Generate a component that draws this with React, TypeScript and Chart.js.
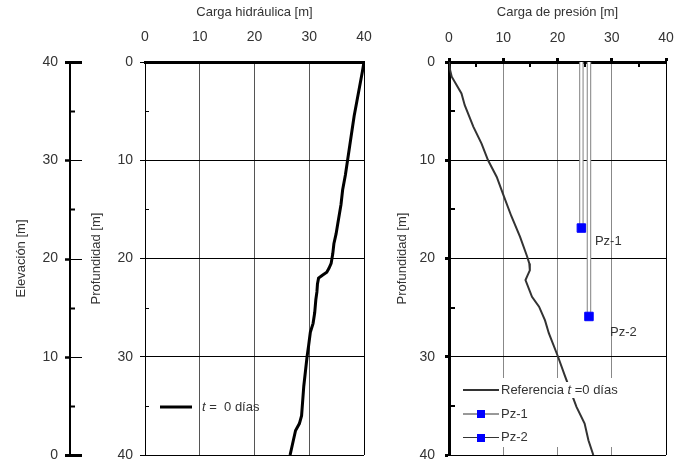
import React, { useEffect, useRef } from 'react';
import { Chart, registerables } from 'chart.js';

Chart.register(...registerables);

// ---------- data ----------
const HEAD_DEPTH = [0, 1, 2.5, 4, 5.5, 7, 8.5, 10, 11.5, 13, 14.5, 15.5, 16.5, 17.5, 18.5, 19.5, 20.5, 21.0, 21.4, 21.7, 22.0, 22.6, 23.4, 24.2, 25.5, 26.6, 27.5, 28.8, 30, 31.5, 33, 34.5, 36, 36.8, 37.5, 38.5, 40];
const HEAD_VALUES = [40, 39.7, 39.2, 38.7, 38.2, 37.8, 37.4, 37.0, 36.6, 36.1, 35.8, 35.5, 35.2, 34.9, 34.5, 34.3, 34.0, 33.6, 33.2, 32.4, 31.7, 31.5, 31.4, 31.2, 31.0, 30.7, 30.2, 29.9, 29.6, 29.3, 29.0, 28.8, 28.6, 28.2, 27.5, 27.1, 26.5];

const PRESSURE_DEPTH = [0, 0.8, 1.5, 3.2, 4.4, 6.6, 8.3, 10, 11.7, 13.5, 15.7, 17.8, 19.8, 20.5, 21.2, 21.7, 22.2, 23.9, 24.9, 26.3, 27.6, 30, 32, 35.1, 36.8, 38.5, 40];
const PRESSURE_VALUES = [0, 0.2, 0.5, 2.3, 2.9, 4.5, 6.0, 7.2, 8.8, 10.0, 11.5, 13.1, 14.4, 14.8, 14.9, 14.5, 14.1, 15.3, 16.6, 17.7, 18.4, 20.1, 21.4, 23.5, 25.0, 25.7, 26.6];

const PZ_NAMES = ['Pz-1', 'Pz-2'];
const PZ_PRESSURE = [24.4, 25.8];
const PZ_DEPTH = [16.9, 25.9];
const PZ_LABEL_X = [26.9, 29.7];
const PZ_LABEL_DEPTH = [18.3, 27.5];

const MINOR_TICKS = [5, 15, 25, 35];
const ELEVATION_TICKS = [0, 10, 20, 30, 40];

const HEAD_TITLE = 'Carga hidráulica [m]';
const PRESSURE_TITLE = 'Carga de presión [m]';
const DEPTH_TITLE = 'Profundidad [m]';
const ELEVATION_TITLE = 'Elevación [m]';
const HEAD_LEGEND = [{ text: 't', italic: true }, { text: ' =  0 días', italic: false }];
const REF_LEGEND = [{ text: 'Referencia ', italic: false }, { text: 't', italic: true }, { text: ' =0 días', italic: false }];

// ---------- style ----------
const FAMILY = '"Liberation Sans", Arial, Helvetica, sans-serif';
const TEXT = '#333';
const f = (size: number, italic = false) => `${italic ? 'italic ' : ''}${size}px ${FAMILY}`;

function fixSize(prop: 'width' | 'height', v: number) {
  return (s: any) => {
    s[prop] = v;
    s.paddingTop = 0; s.paddingBottom = 0; s.paddingLeft = 0; s.paddingRight = 0;
  };
}

function drawRich(ctx: CanvasRenderingContext2D, parts: { text: string; italic: boolean }[], x: number, y: number, size: number, bg: boolean) {
  const widths = parts.map(p => { ctx.font = f(size, p.italic); return ctx.measureText(p.text).width; });
  const total = widths.reduce((a, b) => a + b, 0);
  if (bg) { ctx.fillStyle = '#fff'; ctx.fillRect(x - 1, y - 8, total + 2, 16); }
  let cx = x;
  ctx.textAlign = 'left';
  ctx.textBaseline = 'middle';
  ctx.fillStyle = TEXT;
  parts.forEach((p, i) => { ctx.font = f(size, p.italic); ctx.fillText(p.text, cx, y); cx += widths[i]; });
}

function line(ctx: CanvasRenderingContext2D, x1: number, y1: number, x2: number, y2: number, w: number, c: string) {
  ctx.beginPath(); ctx.strokeStyle = c; ctx.lineWidth = w; ctx.moveTo(x1, y1); ctx.lineTo(x2, y2); ctx.stroke();
}

const leftDecor = {
  id: 'leftDecor',
  afterDraw(chart: any) {
    const ctx = chart.ctx as CanvasRenderingContext2D;
    const e = chart.scales.elev;
    const y = chart.scales.y;
    const ca = chart.chartArea;
    ctx.save();
    const ex = e.right;
    ELEVATION_TICKS.forEach(v => {
      const py = Math.round(e.getPixelForValue(v)) + 0.5;
      if (v === 0 || v === 40) {
        line(ctx, ex - 5, py, ex + 12, py, 3, '#000');
      } else {
        line(ctx, ex - 5, py, ex + 1, py, 2.5, '#000');
        line(ctx, ex, py, ex + 12, py, 1, '#000');
      }
    });
    MINOR_TICKS.forEach(v => {
      const py = Math.round(e.getPixelForValue(v)) + 0.5;
      line(ctx, ex, py, ex + 5, py, 2, '#000');
      const dy = Math.round(y.getPixelForValue(v)) + 0.5;
      line(ctx, ca.left, dy, ca.left + 4, dy, 1, '#000');
    });
    // legend
    const ly = ca.top + 345;
    const ds = chart.data.datasets[0];
    line(ctx, ca.left + 15, ly, ca.left + 47, ly, ds.borderWidth, ds.borderColor);
    drawRich(ctx, HEAD_LEGEND, ca.left + 57, ly, 13, false);
    ctx.restore();
  },
};

const rightDecor = {
  id: 'rightDecor',
  beforeDatasetsDraw(chart: any) {
    const ctx = chart.ctx as CanvasRenderingContext2D;
    const ca = chart.chartArea;
    ctx.save();
    ctx.fillStyle = '#fff';
    ctx.fillRect(ca.left + 3, ca.top + 316, 174, 69);
    ctx.restore();
  },
  afterDatasetsDraw(chart: any) {
    const ctx = chart.ctx as CanvasRenderingContext2D;
    const ca = chart.chartArea;
    const xs = chart.scales.x;
    const ys = chart.scales.y;
    ctx.save();
    // piezometer labels
    ctx.font = f(13);
    ctx.fillStyle = TEXT;
    ctx.textAlign = 'left';
    ctx.textBaseline = 'middle';
    PZ_NAMES.forEach((n, i) => {
      ctx.fillText(n, xs.getPixelForValue(PZ_LABEL_X[i]), ys.getPixelForValue(PZ_LABEL_DEPTH[i]));
    });
    // legend
    const lx1 = ca.left + 14, lx2 = ca.left + 50, tx = ca.left + 52;
    const rows = [ca.top + 328, ca.top + 352, ca.top + 375.5];
    const ref = chart.data.datasets[0];
    line(ctx, lx1, rows[0], lx2, rows[0], ref.borderWidth, ref.borderColor);
    drawRich(ctx, REF_LEGEND, tx, rows[0], 13, true);
    PZ_NAMES.forEach((n, i) => {
      const yy = rows[i + 1];
      line(ctx, lx1, yy, lx2, yy, 1, '#333');
      ctx.fillStyle = '#0000ff';
      const mx = (lx1 + lx2) / 2;
      ctx.fillRect(Math.round(mx - 4), Math.round(yy - 4), 8, 8);
      drawRich(ctx, [{ text: n, italic: false }], tx, yy, 13, false);
    });
    ctx.restore();
  },
  afterDraw(chart: any) {
    const ctx = chart.ctx as CanvasRenderingContext2D;
    const ca = chart.chartArea;
    const xs = chart.scales.x;
    const ys = chart.scales.y;
    ctx.save();
    MINOR_TICKS.forEach(v => {
      const px = Math.round(xs.getPixelForValue(v));
      line(ctx, px, ca.top, px, ca.top + 5, 2, '#000');
      const py = Math.round(ys.getPixelForValue(v));
      line(ctx, ca.left, py, ca.left + 6, py, 2, '#000');
    });
    ctx.restore();
  },
};

const tickFont = { family: FAMILY, size: 14 };
const titleFont = { family: FAMILY, size: 13 };

export default function App() {
  const leftRef = useRef<HTMLCanvasElement>(null);
  const rightRef = useRef<HTMLCanvasElement>(null);

  useEffect(() => {
    const headData = HEAD_VALUES.map((h, i) => ({ x: h, y: HEAD_DEPTH[i] }));
    const pressData = PRESSURE_VALUES.map((p, i) => ({ x: p, y: PRESSURE_DEPTH[i] }));

    const left = new Chart(leftRef.current!, {
      type: 'scatter',
      data: {
        datasets: [{
          label: 't = 0 días',
          data: headData,
          showLine: true,
          borderColor: '#000',
          borderWidth: 3,
          pointRadius: 0,
          fill: false,
        }],
      },
      options: {
        responsive: false,
        animation: false,
        devicePixelRatio: 1,
        layout: { autoPadding: false, padding: { left: 0, right: 28, top: 0, bottom: 11 } },
        plugins: { legend: { display: false }, tooltip: { enabled: false } },
        scales: {
          x: {
            type: 'linear', position: 'top', min: 0, max: 40,
            afterFit: fixSize('height', 62),
            ticks: { stepSize: 10, font: tickFont, color: TEXT, padding: 16 },
            grid: { drawTicks: false, color: (c: any) => (c.tick.value === 40 ? '#000' : '#555'), lineWidth: 1 },
            border: { display: true, color: '#000', width: 3 },
            title: { display: true, text: HEAD_TITLE, font: titleFont, color: TEXT, padding: { top: 4.5, bottom: 0 } },
          },
          y: {
            type: 'linear', position: 'left', reverse: true, min: 0, max: 40,
            afterFit: fixSize('width', 75),
            ticks: { stepSize: 10, font: tickFont, color: TEXT, padding: 7 },
            grid: { color: (c: any) => (c.tick.value === 0 ? 'transparent' : '#000'), tickColor: '#000', tickLength: 5, lineWidth: 1 },
            border: { display: true, color: '#000', width: 1 },
            title: { display: true, text: DEPTH_TITLE, font: titleFont, color: TEXT, padding: { top: 19, bottom: 0 } },
          },
          elev: {
            type: 'linear', position: 'left', weight: 1, min: 0, max: 40,
            afterFit: fixSize('width', 70),
            ticks: { stepSize: 10, font: tickFont, color: TEXT, padding: 12 },
            grid: { drawOnChartArea: false, drawTicks: false },
            border: { display: true, color: '#000', width: 2 },
            title: { display: true, text: ELEVATION_TITLE, font: titleFont, color: TEXT, padding: { top: 14, bottom: 0 } },
          },
        },
      } as any,
      plugins: [leftDecor],
    });

    const pipeOuter = PZ_NAMES.map((n, i) => ({
      label: n + ' tubo',
      data: [{ x: PZ_PRESSURE[i], y: 0 }, { x: PZ_PRESSURE[i], y: PZ_DEPTH[i] }],
      showLine: true, borderColor: '#8c8c8c', borderWidth: 4.5, pointRadius: 0, order: 3,
    }));
    const pipeInner = PZ_NAMES.map((n, i) => ({
      label: n + ' interior',
      data: [{ x: PZ_PRESSURE[i], y: 0 }, { x: PZ_PRESSURE[i], y: PZ_DEPTH[i] }],
      showLine: true, borderColor: '#ffffff', borderWidth: 2.3, pointRadius: 0, order: 2,
    }));
    const markers = PZ_NAMES.map((n, i) => ({
      label: n,
      data: [{ x: PZ_PRESSURE[i], y: PZ_DEPTH[i] }],
      showLine: false, pointStyle: 'rect', pointRadius: 6, pointBackgroundColor: '#0000ff',
      pointBorderColor: '#0000ff', pointBorderWidth: 1, order: 1,
    }));

    const right = new Chart(rightRef.current!, {
      type: 'scatter',
      data: {
        datasets: [
          {
            label: 'Referencia t =0 días',
            data: pressData,
            showLine: true,
            borderColor: '#333',
            borderWidth: 2,
            pointRadius: 0,
            order: 4,
          },
          ...pipeOuter,
          ...pipeInner,
          ...markers,
        ] as any,
      },
      options: {
        responsive: false,
        animation: false,
        devicePixelRatio: 1,
        layout: { autoPadding: false, padding: { left: 0, right: 8, top: 0, bottom: 11 } },
        plugins: { legend: { display: false }, tooltip: { enabled: false } },
        scales: {
          x: {
            type: 'linear', position: 'top', min: 0, max: 40,
            afterFit: fixSize('height', 62),
            ticks: { stepSize: 10, font: tickFont, color: TEXT, padding: 11.6 },
            grid: {
              color: (c: any) => (c.tick.value === 0 ? 'transparent' : c.tick.value === 40 ? '#000' : '#888'),
              tickColor: '#000', tickLength: 4, tickWidth: 3, lineWidth: 1,
            },
            border: { display: true, color: '#000', width: 3 },
            title: { display: true, text: PRESSURE_TITLE, font: titleFont, color: TEXT, padding: { top: 4.5, bottom: 0 } },
          },
          y: {
            type: 'linear', position: 'left', reverse: true, min: 0, max: 40,
            afterFit: fixSize('width', 57),
            ticks: { stepSize: 10, font: tickFont, color: TEXT, padding: 10 },
            grid: {
              color: (c: any) => (c.tick.value === 0 ? 'transparent' : '#000'),
              tickColor: '#000', tickLength: 4, tickWidth: 3, lineWidth: 1,
            },
            border: { display: true, color: '#000', width: 3 },
            title: { display: true, text: DEPTH_TITLE, font: titleFont, color: TEXT, padding: { top: 3, bottom: 0 } },
          },
        },
      } as any,
      plugins: [rightDecor],
    });

    return () => { left.destroy(); right.destroy(); };
  }, []);

  return (
    <div style={{ position: 'fixed', left: 0, top: 0, width: 674, height: 466, background: '#fff' }}>
      <canvas ref={leftRef} width={392} height={466} style={{ position: 'absolute', left: 0, top: 0, width: 392, height: 466 }} />
      <canvas ref={rightRef} width={282} height={466} style={{ position: 'absolute', left: 392, top: 0, width: 282, height: 466 }} />
    </div>
  );
}
